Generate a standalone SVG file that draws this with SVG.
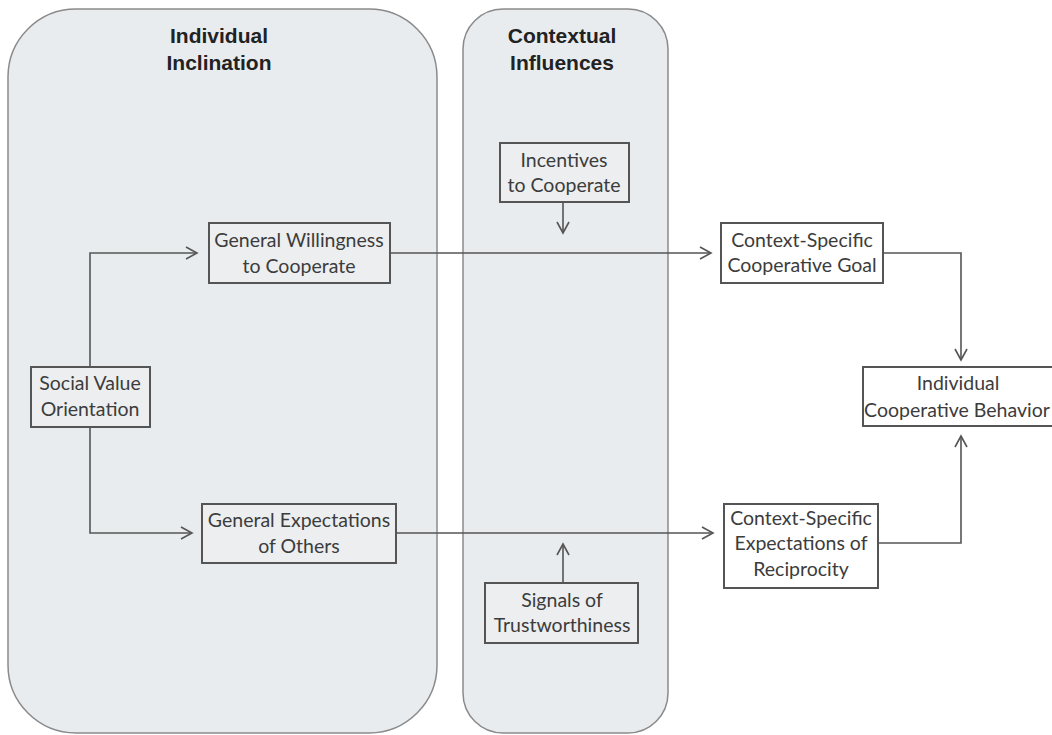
<svg xmlns="http://www.w3.org/2000/svg" width="1052" height="735" viewBox="0 0 1052 735">
<defs>
<style>
.panel{fill:#e9ecef;stroke:#8a8a8a;stroke-width:1.5}
.head{font-family:"Liberation Sans",Arial,sans-serif;font-weight:bold;font-size:21px;fill:#222;text-anchor:middle}
.box{stroke:#555;stroke-width:2}
.in{fill:#eceef0}
.out{fill:#ffffff}
.lbl{font-family:Lato,"Open Sans",sans-serif;font-size:19.5px;fill:#3c3c3c;text-anchor:middle}
.con{fill:none;stroke:#555;stroke-width:1.6}
</style>
<marker id="arr" markerUnits="userSpaceOnUse" markerWidth="14" markerHeight="14" refX="12" refY="7" orient="auto">
<path d="M1,1 L12,7 L1,13" fill="none" stroke="#555" stroke-width="1.6"/>
</marker>
</defs>
<rect width="1052" height="735" fill="#ffffff"/>
<g id="panel-individual">
<rect class="panel" x="8" y="9" width="429" height="724" rx="68" ry="68"/>
<text class="head" x="219" y="43">Individual</text>
<text class="head" x="219" y="70">Inclination</text>
</g>
<g id="panel-contextual">
<rect class="panel" x="463" y="9" width="205" height="724" rx="40" ry="40"/>
<text class="head" x="562" y="43">Contextual</text>
<text class="head" x="562" y="70">Influences</text>
</g>
<g id="connectors">
<path class="con" d="M90,367 V253 H197" marker-end="url(#arr)"/>
<path class="con" d="M90,427 V533 H192" marker-end="url(#arr)"/>
<path class="con" d="M390,253 H711" marker-end="url(#arr)"/>
<path class="con" d="M396,533 H713" marker-end="url(#arr)"/>
<path class="con" d="M563,202 V233" marker-end="url(#arr)"/>
<path class="con" d="M563,583 V544" marker-end="url(#arr)"/>
<path class="con" d="M883,253 H961 V360" marker-end="url(#arr)"/>
<path class="con" d="M878,543 H961 V436" marker-end="url(#arr)"/>
</g>
<g id="node-svo">
<rect class="box in" x="31" y="367" width="119" height="60"/>
<text class="lbl" x="90" y="390">Social Value</text>
<text class="lbl" x="90" y="416">Orientation</text>
</g>
<g id="node-willingness">
<rect class="box in" x="209" y="223" width="181" height="60"/>
<text class="lbl" x="299" y="247">General Willingness</text>
<text class="lbl" x="299" y="273">to Cooperate</text>
</g>
<g id="node-expectations">
<rect class="box in" x="202" y="504" width="194" height="59"/>
<text class="lbl" x="299" y="527">General Expectations</text>
<text class="lbl" x="299" y="553">of Others</text>
</g>
<g id="node-incentives">
<rect class="box in" x="500" y="143" width="129" height="59"/>
<text class="lbl" x="564" y="167">Incentives</text>
<text class="lbl" x="564" y="192">to Cooperate</text>
</g>
<g id="node-signals">
<rect class="box in" x="485" y="583" width="153" height="60"/>
<text class="lbl" x="562" y="607">Signals of</text>
<text class="lbl" x="562" y="632">Trustworthiness</text>
</g>
<g id="node-goal">
<rect class="box out" x="721" y="223" width="162" height="60"/>
<text class="lbl" x="802" y="247">Context-Specific</text>
<text class="lbl" x="802" y="272">Cooperative Goal</text>
</g>
<g id="node-reciprocity">
<rect class="box out" x="724" y="504" width="154" height="84"/>
<text class="lbl" x="801" y="525">Context-Specific</text>
<text class="lbl" x="801" y="550">Expectations of</text>
<text class="lbl" x="801" y="576">Reciprocity</text>
</g>
<g id="node-behavior">
<rect class="box out" x="863" y="367" width="200" height="59"/>
<text class="lbl" x="958" y="390">Individual</text>
<text class="lbl" x="957" y="417">Cooperative Behavior</text>
</g>
</svg>
